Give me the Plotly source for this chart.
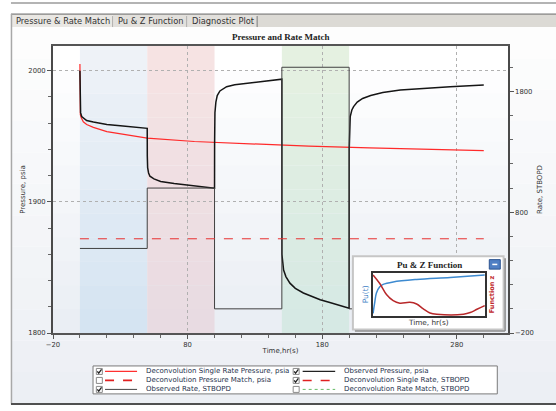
import plotly.graph_objects as go

# ---------------- data ----------------
obs_time = [0, 0.05, 0.2, 0.5, 1.3, 5, 10, 20, 30, 40, 50,
            50.05, 50.3, 51, 52, 55, 60, 70, 80, 90, 100,
            100.05, 100.3, 101, 102, 104, 109, 115, 125, 134, 150,
            150.05, 151.3, 153, 156, 160, 166, 172, 178.5, 185, 191, 200,
            200.05, 200.4, 200.8, 202, 203.3, 206, 210, 216, 225, 238, 255, 275, 300]
obs_pressure = [2000, 1985, 1972, 1968, 1965, 1962, 1960.8, 1959, 1958, 1957, 1956,
                1935, 1926, 1922, 1919.5, 1917.5, 1915.5, 1914, 1912.8, 1911.6, 1910.4,
                1945, 1968, 1976, 1981, 1984.5, 1987.8, 1989.3, 1990.7, 1991.6, 1993.5,
                1860, 1848, 1843, 1838, 1834, 1830.5, 1827.8, 1825.4, 1823.4, 1821.5, 1818.8,
                1940, 1958, 1965, 1970, 1972.6, 1976, 1978.8, 1981, 1983.3, 1985.3, 1986.6, 1987.8, 1989.1]

dec_time = [0, 0.05, 0.3, 1, 2.5, 5, 10, 20, 35, 50, 85, 130, 170, 215, 260, 300]
dec_pressure = [2005, 1970, 1966.5, 1964, 1961, 1959, 1956.8, 1953.5, 1950.8, 1948.6,
                1946, 1944, 1942.4, 1941.2, 1940.1, 1939.1]

rate_time = [0, 50, 100, 150, 200, 300]
rate_value = [500, 1000, 0, 2000, 0, 0]

single_rate_time = [0, 300]
single_rate_value = [580, 580]

region_start = [0, 50, 150]
region_end = [50, 100, 200]

inset_pu_t = [0, 0.015, 0.03, 0.06, 0.09, 0.18, 0.39, 0.69, 1.0]
inset_pu = [0.04, 0.31, 0.54, 0.69, 0.75, 0.81, 0.87, 0.92, 0.98]
inset_z_t = [0, 0.06, 0.12, 0.18, 0.24, 0.33, 0.39, 0.45, 0.51, 0.57, 0.81, 0.87, 0.93, 1.0]
inset_z = [0.98, 0.77, 0.5, 0.35, 0.29, 0.31, 0.27, 0.15, 0.05, 0.02, 0.02, 0.06, 0.14, 0.23]

tab_labels = ["Pressure & Rate Match", "Pu & Z Function", "Diagnostic Plot"]
legend_labels = ["Deconvolution Single Rate Pressure, psia", "Deconvolution Pressure Match, psia",
                 "Observed Rate, STBOPD", "Observed Pressure, psia",
                 "Deconvolution Single Rate, STBOPD", "Deconvolution Rate Match, STBOPD"]
legend_checked = [True, False, True, True, True, False]

# ---------------- layout helpers ----------------
W, H = 556, 411
L, R, T, B = 53, 48.3, 46, 77.5
PW, PH = W - L - R, H - T - B


def px(x):
    return (x - L) / PW


def py(y):
    return (H - B - y) / PH


def hexmix(c1, c2, f):
    a = [int(c1[i:i + 2], 16) for i in (1, 3, 5)]
    b = [int(c2[i:i + 2], 16) for i in (1, 3, 5)]
    return "#%02x%02x%02x" % tuple(round(a[k] + (b[k] - a[k]) * f) for k in range(3))


shapes = []
annotations = []

# window / content background
NB = 12
for i in range(NB):
    y0 = 27 + (404 - 27) * i / NB
    y1 = 27 + (404 - 27) * (i + 1) / NB
    shapes.append(dict(type="rect", xref="paper", yref="paper", layer="below",
                       x0=px(11.5), x1=px(556), y0=py(y1), y1=py(y0),
                       fillcolor=hexmix("#fdfdfd", "#eceff4", i / (NB - 1)), line=dict(width=0)))
# plot area gradient
for i in range(NB):
    shapes.append(dict(type="rect", xref="paper", yref="paper", layer="below",
                       x0=0, x1=1, y0=1 - (i + 1) / NB, y1=1 - i / NB,
                       fillcolor=hexmix("#ffffff", "#eaeef4", i / (NB - 1)), line=dict(width=0)))
# shaded regions
region_colors = [("#eef2f7", "#d5e4f2"), ("#f6e3e3", "#e8dbe2"), ("#e5f1e1", "#d6e9e4")]
for s, e, (ct, cb) in zip(region_start, region_end, region_colors):
    for i in range(NB):
        shapes.append(dict(type="rect", xref="x", yref="paper", layer="below",
                           x0=s, x1=e, y0=1 - (i + 1) / NB, y1=1 - i / NB,
                           fillcolor=hexmix(ct, cb, i / (NB - 1)), line=dict(width=0)))

# top line, tab strip
shapes.append(dict(type="line", xref="paper", yref="paper", x0=px(11), x1=px(556), y0=py(3), y1=py(3),
                   line=dict(color="#b4b4b4", width=2)))
shapes.append(dict(type="rect", xref="paper", yref="paper", x0=px(11.5), x1=px(556), y0=py(27), y1=py(14),
                   fillcolor="#dcdad5", line=dict(width=0)))
tab_edges = [12, 113, 187, 257]
for i in range(3):
    shapes.append(dict(type="rect", xref="paper", yref="paper", x0=px(tab_edges[i]), x1=px(tab_edges[i + 1]),
                       y0=py(27), y1=py(15), fillcolor="#e9e7e3" if i == 0 else "#e2e0dc",
                       line=dict(width=0)))
    shapes.append(dict(type="line", xref="paper", yref="paper", x0=px(tab_edges[i + 1]), x1=px(tab_edges[i + 1]),
                       y0=py(27), y1=py(16), line=dict(color="#7a7a7a", width=1)))
    annotations.append(dict(x=px(tab_edges[i] + 2.5), y=py(21), xref="paper", yref="paper",
                            text=tab_labels[i], showarrow=False, xanchor="left", yanchor="middle",
                            font=dict(family="DejaVu Sans", size=8.3, color="#333333")))
shapes.append(dict(type="line", xref="paper", yref="paper", x0=px(11), x1=px(556), y0=py(14), y1=py(14),
                   line=dict(color="#6a6a6a", width=1)))
shapes.append(dict(type="line", xref="paper", yref="paper", x0=px(11.5), x1=px(11.5), y0=py(404), y1=py(14),
                   line=dict(color="#a8a8a8", width=1.5)))
shapes.append(dict(type="line", xref="paper", yref="paper", x0=px(11), x1=px(556), y0=py(404.5), y1=py(404.5),
                   line=dict(color="#505050", width=2)))

# main title
annotations.append(dict(x=px(280), y=py(37), xref="paper", yref="paper", text="<b>Pressure and Rate Match</b>",
                        showarrow=False, xanchor="center", yanchor="middle",
                        font=dict(family="Liberation Serif", size=9, color="#222222")))

# legend box
shapes.append(dict(type="rect", xref="paper", yref="paper", x0=px(93), x1=px(497), y0=py(394.5), y1=py(366.5),
                   fillcolor="#ffffff", line=dict(color="#7a7a7a", width=1)))
leg_styles = [dict(color="#ff3030", width=1.2, dash="solid"), dict(color="#e02020", width=1.8, dash="dash"),
              dict(color="#444444", width=1, dash="solid"), dict(color="#222222", width=1.3, dash="solid"),
              dict(color="#e02020", width=1.5, dash="dash"), dict(color="#66bb66", width=1, dash="dot")]
rows = [372, 381, 390]
cols = [(99.3, 105, 137, 143.5), (296, 302.5, 335, 341.5)]
for k, lab in enumerate(legend_labels):
    c = cols[k // 3]
    yy = rows[k % 3]
    shapes.append(dict(type="rect", xref="paper", yref="paper", x0=px(c[0] - 3), x1=px(c[0] + 3),
                       y0=py(yy + 3), y1=py(yy - 3), fillcolor="#ffffff", line=dict(color="#8a8a8a", width=1)))
    if legend_checked[k]:
        path = "M %f %f L %f %f L %f %f" % (px(c[0] - 2), py(yy), px(c[0] - 0.6), py(yy + 1.8),
                                            px(c[0] + 2.2), py(yy - 2))
        shapes.append(dict(type="path", xref="paper", yref="paper", path=path, line=dict(color="#222222", width=1.3)))
    shapes.append(dict(type="line", xref="paper", yref="paper", x0=px(c[1]), x1=px(c[2]), y0=py(yy), y1=py(yy),
                       line=leg_styles[k]))
    annotations.append(dict(x=px(c[3]), y=py(yy), xref="paper", yref="paper", text=lab, showarrow=False,
                            xanchor="left", yanchor="middle",
                            font=dict(family="DejaVu Sans", size=7, color="#26324c")))

# inset decorations
IB = (352.7, 256.7, 503.3, 330)
shapes.append(dict(type="rect", xref="paper", yref="paper", layer="above", x0=px(IB[0]), x1=px(IB[2]),
                   y0=py(IB[3]), y1=py(IB[1]), line=dict(color="#c6c6c6", width=2)))
shapes.append(dict(type="line", xref="paper", yref="paper", layer="above", x0=px(IB[2] + 1.5), x1=px(IB[2] + 1.5),
                   y0=py(IB[3] + 1.5), y1=py(IB[1] + 2), line=dict(color="#8c8c8c", width=1.5)))
shapes.append(dict(type="line", xref="paper", yref="paper", layer="above", x0=px(IB[0] + 2), x1=px(IB[2] + 1.5),
                   y0=py(IB[3] + 1.5), y1=py(IB[3] + 1.5), line=dict(color="#8c8c8c", width=1.5)))
shapes.append(dict(type="rect", xref="paper", yref="paper", layer="above", x0=px(489), x1=px(500),
                   y0=py(269.5), y1=py(260), fillcolor="#4f7fc4", line=dict(color="#2d5590", width=1)))
shapes.append(dict(type="line", xref="paper", yref="paper", layer="above", x0=px(492), x1=px(497),
                   y0=py(264.8), y1=py(264.8), line=dict(color="#ffffff", width=1.5)))
annotations.append(dict(x=px(429), y=py(265.5), xref="paper", yref="paper", text="<b>Pu & Z Function</b>",
                        showarrow=False, xanchor="center", yanchor="middle",
                        font=dict(family="Liberation Serif", size=9, color="#222222")))
annotations.append(dict(x=px(365.5), y=py(295), xref="paper", yref="paper", text="Pu(t)", textangle=-90,
                        showarrow=False, xanchor="center", yanchor="middle",
                        font=dict(family="DejaVu Sans", size=7.5, color="#3b7dc4")))
annotations.append(dict(x=px(491.5), y=py(295), xref="paper", yref="paper", text="<b>Function z</b>", textangle=-90,
                        showarrow=False, xanchor="center", yanchor="middle",
                        font=dict(family="DejaVu Sans", size=6.5, color="#c0282d")))
annotations.append(dict(x=px(428.5), y=py(322.5), xref="paper", yref="paper", text="Time, hr(s)",
                        showarrow=False, xanchor="center", yanchor="middle",
                        font=dict(family="DejaVu Sans", size=7.3, color="#333333")))

# ---------------- figure ----------------
fig = go.Figure()
fig.add_trace(go.Scatter(x=dec_time, y=dec_pressure, mode="lines", line=dict(color="#ff2a2a", width=1.2),
                         hoverinfo="skip"))
fig.add_trace(go.Scatter(x=obs_time, y=obs_pressure, mode="lines", line=dict(color="#151515", width=1.5),
                         hoverinfo="skip"))
fig.add_trace(go.Scatter(x=rate_time, y=rate_value, yaxis="y2", mode="lines", line_shape="hv",
                         line=dict(color="#404040", width=1), hoverinfo="skip"))
fig.add_trace(go.Scatter(x=single_rate_time, y=single_rate_value, yaxis="y2", mode="lines",
                         line=dict(color="#e83030", width=1, dash="dash"), hoverinfo="skip"))
# inset background box
fig.add_trace(go.Scatter(x=[0, 1, 1, 0, 0], y=[0, 0, 1, 1, 0], xaxis="x2", yaxis="y3", mode="lines",
                         fill="toself", fillcolor="#ffffff", line=dict(width=0), hoverinfo="skip"))
# inset curves
fig.add_trace(go.Scatter(x=inset_pu_t, y=inset_pu, xaxis="x3", yaxis="y4", mode="lines", line_shape="spline",
                         line=dict(color="#3d8ad0", width=1.5), hoverinfo="skip"))
fig.add_trace(go.Scatter(x=inset_z_t, y=inset_z, xaxis="x3", yaxis="y5", mode="lines", line_shape="spline",
                         line=dict(color="#b8282a", width=1.5), hoverinfo="skip"))

tickfont = dict(family="DejaVu Sans", size=6.8, color="#333333")
titlefont = dict(family="DejaVu Sans", size=7, color="#333333")
hidden = dict(showgrid=False, zeroline=False, showticklabels=False, ticks="", showline=False)

fig.update_layout(
    template="none", width=W, height=H, autosize=False, showlegend=False,
    margin=dict(l=L, r=R, t=T, b=B, pad=0),
    paper_bgcolor="#ffffff", plot_bgcolor="rgba(0,0,0,0)",
    xaxis=dict(domain=[0, 1], range=[-20, 318], tick0=-20, dtick=100, ticks="outside", ticklen=4,
               tickcolor="#555555", minor=dict(dtick=20, tick0=-20, ticks="outside", ticklen=3, tickcolor="#666666",
                                                showgrid=False),
               showgrid=True, gridcolor="#b0b0b0", griddash="dot", gridwidth=1, zeroline=False,
               showline=True, mirror=True, linecolor="#555555", linewidth=1.5, tickfont=tickfont,
               title=dict(text="Time,hr(s)", font=titlefont, standoff=0), automargin=False),
    yaxis=dict(domain=[0, 1], range=[1800, 2018.8], tick0=1800, dtick=100, ticks="outside", ticklen=4,
               tickcolor="#555555", minor=dict(dtick=20, tick0=1800, ticks="outside", ticklen=3, tickcolor="#666666",
                                                showgrid=False),
               showgrid=True, gridcolor="#b0b0b0", griddash="dot", gridwidth=1, zeroline=False,
               showline=True, mirror=True, linecolor="#4a4a4a", linewidth=2, tickfont=tickfont,
               title=dict(text="Pressure, psia", font=titlefont, standoff=2), automargin=False),
    yaxis2=dict(overlaying="y", side="right", range=[-200, 2176], tick0=-200, dtick=1000, ticks="outside",
                ticklen=4, tickcolor="#555555",
                minor=dict(dtick=200, tick0=-200, ticks="outside", ticklen=3, tickcolor="#666666", showgrid=False),
                showgrid=False, zeroline=False, showline=True, linecolor="#4a4a4a", linewidth=1.5,
                tickfont=tickfont, title=dict(text="Rate, STBOPD", font=titlefont, standoff=4), automargin=False),
    xaxis2=dict(domain=[px(IB[0]), px(IB[2])], range=[0, 1], anchor="y3", fixedrange=True, **hidden),
    yaxis3=dict(domain=[py(IB[3]), py(IB[1])], range=[0, 1], anchor="x2", fixedrange=True, **hidden),
    xaxis3=dict(domain=[px(372.3), px(485)], range=[-0.005, 1.005], anchor="y4", showgrid=False, zeroline=False,
                showticklabels=False, ticks="", showline=True, mirror=True, linecolor="#333333", linewidth=1.5),
    yaxis4=dict(domain=[py(316.7), py(273.3)], range=[-0.03, 1.03], anchor="x3", showgrid=False, zeroline=False,
                showticklabels=False, ticks="", showline=True, mirror=True, linecolor="#333333", linewidth=1.5),
    yaxis5=dict(overlaying="y4", anchor="x3", side="right", range=[-0.03, 1.03], **hidden),
    shapes=shapes, annotations=annotations,
)

fig.write_html("out.html", config={"displayModeBar": False})
